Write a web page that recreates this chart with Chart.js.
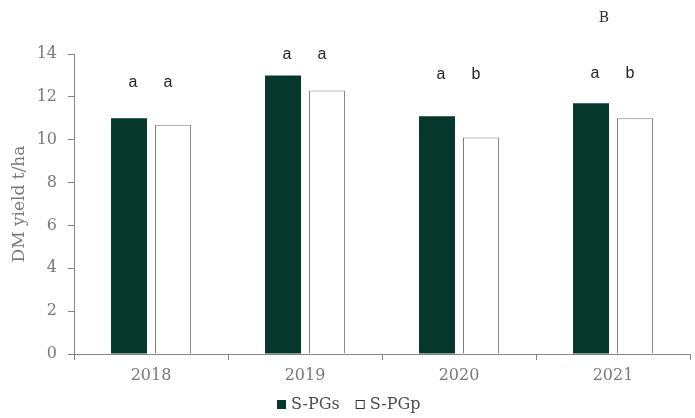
<!DOCTYPE html>
<html>
<head>
<meta charset="utf-8">
<script src="https://cdn.jsdelivr.net/npm/chart.js@4.4.0/dist/chart.umd.min.js"></script>
<style>
  html, body { margin: 0; padding: 0; background: #ffffff; }
  #wrap { width: 695px; height: 418px; position: relative; }
</style>
</head>
<body>
<div id="wrap"><canvas id="c" width="695" height="418"></canvas></div>
<script>
// Dry-matter yield per year for the two sward types
const years = ['2018', '2019', '2020', '2021'];
const spgs = [11.0, 13.0, 11.1, 11.7];
const spgp = [10.7, 12.3, 10.1, 11.0];
// Significance letters shown above each bar
const lettersSpgs = ['a', 'a', 'a', 'a'];
const lettersSpgp = ['a', 'a', 'b', 'b'];
const yTicks = [0, 2, 4, 6, 8, 10, 12, 14];
const panelLabel = 'B';

// Height (in axis units) at which each year's letters sit
const letterLevel = [12.65, 13.95, 13.05, 13.1];

const serif = '"DejaVu Serif", "Liberation Serif", serif';
const grey = '#7a7a7a';
const axisGrey = '#858585';
const darkGreen = '#05372b';

const letterPlugin = {
  id: 'letters',
  afterDatasetsDraw(chart) {
    const ctx = chart.ctx;
    const yScale = chart.scales.y;
    const sets = [lettersSpgs, lettersSpgp];
    ctx.save();
    ctx.font = '16px "Liberation Sans", Arial, sans-serif';
    ctx.fillStyle = '#262626';
    ctx.textAlign = 'center';
    ctx.textBaseline = 'middle';
    sets.forEach((letters, di) => {
      const meta = chart.getDatasetMeta(di);
      meta.data.forEach((bar, i) => {
        ctx.fillText(letters[i], bar.x + (di === 0 ? 4 : -5), yScale.getPixelForValue(letterLevel[i]));
      });
    });
    // panel letter
    ctx.font = '14px ' + serif;
    ctx.fillStyle = '#333333';
    ctx.fillText(panelLabel, chart.chartArea.left + 530, 18);
    ctx.restore();
  }
};

// Legend row under the x axis: filled square for S-PGs, open square for S-PGp
const legendPlugin = {
  id: 'legendRow',
  afterDraw(chart) {
    const ctx = chart.ctx;
    const ds = chart.data.datasets;
    ctx.save();
    ctx.font = '16px ' + serif;
    ctx.textBaseline = 'middle';
    ctx.textAlign = 'left';
    const y = 405;
    let x = chart.chartArea.left + 203;
    ds.forEach((d, i) => {
      ctx.fillStyle = d.backgroundColor;
      ctx.fillRect(x, y - 5, 9, 9);
      ctx.lineWidth = 1;
      ctx.strokeStyle = i === 0 ? d.backgroundColor : '#333333';
      ctx.strokeRect(x + 0.5, y - 4.5, 8, 8);
      ctx.fillStyle = '#4d4d4d';
      ctx.fillText(d.label, x + 14, y);
      x += 14 + ctx.measureText(d.label).width + 16;
    });
    ctx.restore();
  }
};

new Chart(document.getElementById('c'), {
  type: 'bar',
  data: {
    labels: years,
    datasets: [
      {
        label: 'S-PGs',
        data: spgs,
        backgroundColor: darkGreen,
        borderColor: darkGreen,
        borderWidth: 0,
        categoryPercentage: 0.571,
        barPercentage: 0.818
      },
      {
        label: 'S-PGp',
        data: spgp,
        backgroundColor: '#ffffff',
        borderColor: '#7f7f7f',
        borderWidth: 1,
        categoryPercentage: 0.571,
        barPercentage: 0.818
      }
    ]
  },
  options: {
    responsive: false,
    animation: false,
    devicePixelRatio: 1,
    layout: { padding: { top: 54, right: 5, left: 0, bottom: 0 } },
    plugins: {
      tooltip: { enabled: false },
      legend: { display: false }
    },
    scales: {
      x: {
        afterFit(scale) { scale.height = 64; },
        grid: {
          display: true,
          drawOnChartArea: false,
          drawTicks: true,
          tickLength: 6,
          color: axisGrey,
          offset: true
        },
        border: { display: true, color: axisGrey, width: 1 },
        ticks: { color: grey, font: { family: serif, size: 16 }, padding: 6 }
      },
      y: {
        min: 0,
        max: 14,
        afterBuildTicks(scale) { scale.ticks = yTicks.map(v => ({ value: v })); },
        afterFit(scale) { scale.width = 74; },
        grid: {
          display: true,
          drawOnChartArea: false,
          drawTicks: true,
          tickLength: 6,
          color: axisGrey
        },
        border: { display: true, color: axisGrey, width: 1 },
        ticks: { color: grey, font: { family: serif, size: 16 }, padding: 11 },
        title: {
          display: true,
          text: 'DM yield t/ha',
          color: grey,
          font: { family: serif, size: 17 },
          padding: { top: 9, bottom: 4 }
        }
      }
    }
  },
  plugins: [letterPlugin, legendPlugin]
});
</script>
</body>
</html>
